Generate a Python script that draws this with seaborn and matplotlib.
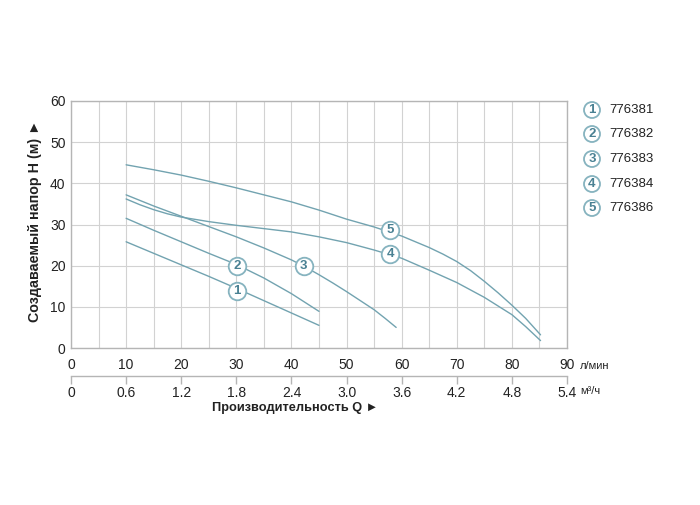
import matplotlib
matplotlib.use("Agg")
import matplotlib.pyplot as plt
import matplotlib.patches as mpatches
import seaborn as sns
import pandas as pd

# ---- data ----
models = ["776381", "776382", "776383", "776384", "776386"]
labels = ["1", "2", "3", "4", "5"]

q1 = [10, 15, 20, 25, 30, 35, 40, 45]
h1 = [25.8, 23.0, 20.2, 17.4, 14.5, 11.5, 8.5, 5.5]
q2 = [10, 15, 20, 25, 30, 35, 40, 45]
h2 = [31.5, 28.6, 25.8, 23.0, 20.3, 17.0, 13.2, 8.9]
q3 = [10, 15, 20, 25, 30, 35, 40, 42.5, 45, 47.5, 50, 52.5, 55, 57, 59]
h3 = [37.2, 34.5, 32.0, 29.5, 27.0, 24.3, 21.4, 19.7, 17.8, 15.8, 13.7, 11.5, 9.3, 7.2, 5.0]
q4 = [10, 12.5, 15, 17.5, 20, 25, 30, 35, 40, 45, 50, 55, 60, 65, 70, 75, 80, 82.5, 85.2]
h4 = [36.2, 34.8, 33.6, 32.6, 31.8, 30.7, 29.8, 29.0, 28.2, 27.0, 25.6, 23.8, 21.8, 18.9, 15.9, 12.3, 8.1, 5.2, 1.8]
q5 = [10, 15, 20, 25, 30, 35, 40, 45, 50, 55, 60, 65, 67.5, 70, 72.5, 75, 77.5, 80, 82.5, 85.2]
h5 = [44.5, 43.3, 42.0, 40.5, 38.9, 37.2, 35.5, 33.5, 31.3, 29.4, 27.2, 24.4, 22.8, 21.0, 18.8, 16.2, 13.4, 10.4, 7.2, 3.2]

label_q = [30.1, 30.1, 42.2, 57.9, 57.9]
label_h = [13.8, 19.9, 20.0, 22.8, 28.7]

q_ticks = [0, 10, 20, 30, 40, 50, 60, 70, 80, 90]
m3_ticks = [0, 0.6, 1.2, 1.8, 2.4, 3.0, 3.6, 4.2, 4.8, 5.4]
m3_labels = ["0", "0.6", "1.2", "1.8", "2.4", "3.0", "3.6", "4.2", "4.8", "5.4"]
h_ticks = [0, 10, 20, 30, 40, 50, 60]

curves = [(q1, h1), (q2, h2), (q3, h3), (q4, h4), (q5, h5)]
rows = []
for m, (qs, hs) in zip(models, curves):
    for q, h in zip(qs, hs):
        rows.append({"model": m, "Q": q, "H": h})
df = pd.DataFrame(rows)

sns.set_theme(style="white")
plt.rcParams["font.family"] = ["Liberation Sans", "DejaVu Sans"]

LINE = "#72a3b0"
EDGE = "#86b3bf"
NUM = "#4a8193"
GRID = "#d2d2d2"
SPINE = "#b5b5b5"
TXT = "#222222"

fig = plt.figure(figsize=(7.0, 5.05), dpi=100)
L, R, B, T = 71 / 700, 567 / 700, 1 - 348 / 505, 1 - 101 / 505
ax = fig.add_axes([L, B, R - L, T - B])

sns.lineplot(data=df, x="Q", y="H", hue="model", units="model", estimator=None,
             sort=False, palette=[LINE] * 5, legend=False, linewidth=1.0, ax=ax)

ax.set_xlim(0, 90)
ax.set_ylim(0, 60)
ax.set_xticks(q_ticks)
ax.set_xticks(range(5, 90, 10), minor=True)
ax.set_yticks(h_ticks)
ax.grid(True, which="both", axis="x", color=GRID, linewidth=0.8)
ax.grid(True, which="major", axis="y", color=GRID, linewidth=0.8)
ax.tick_params(axis="both", which="both", length=0, labelsize=10, colors=TXT)
ax.tick_params(axis="x", pad=7)
ax.tick_params(axis="y", pad=4)
for s in ax.spines.values():
    s.set_color(SPINE)
    s.set_linewidth(1.0)
ax.set_xlabel("")
ax.set_ylabel("")

# curve number markers
ax.scatter(label_q, label_h, s=160, facecolor="white", edgecolor=EDGE, linewidth=1.3, zorder=5)
for lq, lh, lab in zip(label_q, label_h, labels):
    ax.text(lq, lh, lab, ha="center", va="center", fontsize=9.5, fontweight="bold",
            color=NUM, zorder=6)

# secondary axis (m3/h)
loc = (348 - 376) / (348 - 101)
sec = ax.secondary_xaxis(loc, functions=(lambda q: q * 0.06, lambda m: m / 0.06))
sec.set_xticks(m3_ticks)
sec.set_xticklabels(m3_labels)
sec.spines["bottom"].set_color(SPINE)
sec.spines["bottom"].set_linewidth(1.0)
sec.tick_params(axis="x", bottom=True, direction="out", length=6, width=1.0, color=SPINE,
                labelsize=10, labelcolor=TXT, pad=1.5)

# units
fig.text(580 / 700, 1 - 366 / 505, "л/мин", fontsize=8, color=TXT, va="center", ha="left")
fig.text(580 / 700, 1 - 391 / 505, "м³/ч", fontsize=8, color=TXT, va="center", ha="left")

# axis titles
fig.text(295 / 700, 1 - 408 / 505, "Производительность Q ►", fontsize=9.2, fontweight="bold",
         color=TXT, ha="center", va="center")
fig.text(35 / 700, 1 - 221 / 505, "Создаваемый напор H (м) ►", fontsize=10.3, fontweight="bold",
         color=TXT, ha="center", va="center", rotation=90)

# legend
ys = [110, 134, 159, 184, 208]
for yy, lab, m in zip(ys, labels, models):
    fy = 1 - yy / 505
    fig.patches.append(mpatches.Ellipse((592 / 700, fy), 16 / 700, 16 / 505,
                                        transform=fig.transFigure, facecolor="white",
                                        edgecolor=EDGE, linewidth=1.3))
    fig.text(592 / 700, fy, lab, fontsize=9.5, fontweight="bold", color=NUM,
             ha="center", va="center")
    fig.text(609 / 700, fy, m, fontsize=9.5, color=TXT, ha="left", va="center")

fig.savefig("out.png", dpi=100)
